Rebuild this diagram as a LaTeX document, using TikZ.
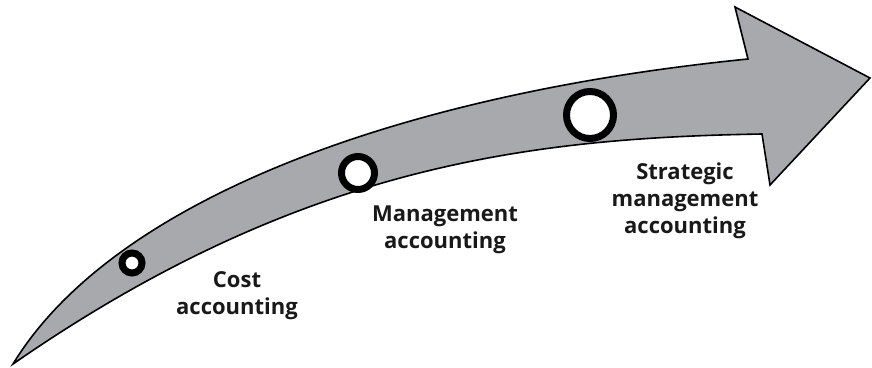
\documentclass[tikz,border=0pt]{standalone}
\usepackage{fontspec}
\setmainfont{Open Sans}
\begin{document}
\begin{tikzpicture}[x=1pt,y=-1pt,
  arrowbody/.style={fill=arrowgray,draw=black,line width=1.6pt,line join=miter},
  ring/.style={circle,draw=black,fill=white,line width=7pt,inner sep=0pt},
  label/.style={align=center,anchor=base,font=\fontsize{22}{27}\selectfont\bfseries,text=black!90}]
\definecolor{arrowgray}{HTML}{A7A9AC}
\useasboundingbox (0,0) rectangle (872,367);
\filldraw[arrowbody] (13,364) .. controls (113,200) and (398,94) .. (748,59)
  -- (735,7) -- (870,78) -- (770,185) -- (762,134)
  .. controls (530,138) and (300,165) .. (13,364) -- cycle;
\node[ring,minimum size=20pt] (c1) at (132,263) {};
\node[ring,minimum size=33pt] (c2) at (358,173) {};
\node[ring,minimum size=47pt] (c3) at (590,115) {};
\node[label] (t1) at (237,314) {Cost\\accounting};
\node[label] (t2) at (445,248) {Management\\accounting};
\node[label] (t3) at (685,233) {Strategic\\management\\accounting};
\end{tikzpicture}
\end{document}
